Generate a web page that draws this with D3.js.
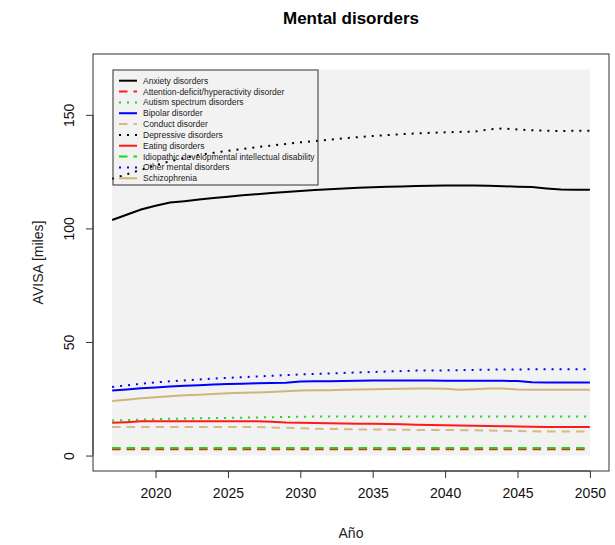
<!DOCTYPE html>
<html lang="es">
<head>
<meta charset="UTF-8">
<title>Mental disorders</title>
<script src="https://d3js.org/d3.v7.min.js"></script>
<style>
  body { margin: 0; background: #fff; }
  text { font-family: "Liberation Sans", Arial, sans-serif; }
</style>
</head>
<body>
<svg id="chart" width="615" height="545"></svg>
<script>
// years on the x axis
var years = [2017, 2018, 2019, 2020, 2021, 2022, 2023, 2024, 2025, 2026, 2027, 2028,
             2029, 2030, 2031, 2032, 2033, 2034, 2035, 2036, 2037, 2038, 2039, 2040,
             2041, 2042, 2043, 2044, 2045, 2046, 2047, 2048, 2049, 2050];

// AVISA (miles) per disorder
var anxiety = [103.7, 106.0, 108.3, 110.0, 111.4, 112.0, 112.7, 113.4, 114.0, 114.6, 115.1, 115.6,
               116.0, 116.5, 116.9, 117.3, 117.6, 117.9, 118.1, 118.3, 118.5, 118.7, 118.8, 118.9,
               118.9, 118.9, 118.8, 118.6, 118.4, 118.2, 117.6, 117.1, 117.0, 117.0];
var adhd = [2.8, 2.8, 2.8, 2.8, 2.8, 2.8, 2.8, 2.8, 2.8, 2.8, 2.8, 2.8,
            2.8, 2.8, 2.8, 2.8, 2.8, 2.8, 2.8, 2.8, 2.8, 2.8, 2.8, 2.8,
            2.8, 2.8, 2.8, 2.8, 2.8, 2.8, 2.8, 2.8, 2.8, 2.8];
var autism = [15.4, 15.6, 15.8, 16.0, 16.2, 16.3, 16.4, 16.5, 16.6, 16.7, 16.8, 16.9,
              17.0, 17.1, 17.2, 17.2, 17.2, 17.2, 17.2, 17.2, 17.2, 17.2, 17.2, 17.2,
              17.2, 17.2, 17.2, 17.2, 17.2, 17.2, 17.2, 17.2, 17.2, 17.2];
var bipolar = [28.6, 29.1, 29.6, 30.0, 30.4, 30.7, 31.0, 31.3, 31.5, 31.6, 31.8, 31.9,
               32.1, 32.6, 32.7, 32.7, 32.8, 32.9, 33.0, 33.0, 33.0, 33.0, 33.0, 32.9,
               32.9, 32.9, 32.9, 32.9, 32.8, 32.3, 32.2, 32.2, 32.2, 32.2];
var conduct = [12.6, 12.6, 12.6, 12.6, 12.6, 12.6, 12.6, 12.6, 12.6, 12.6, 12.6, 12.4,
               12.2, 12.0, 11.8, 11.7, 11.6, 11.5, 11.5, 11.4, 11.4, 11.3, 11.3, 11.2,
               11.2, 11.1, 11.0, 10.9, 10.8, 10.7, 10.6, 10.6, 10.6, 10.6];
var depressive = [121.8, 123.8, 125.8, 127.8, 129.6, 131.0, 132.3, 133.3, 134.2, 135.0, 135.8, 136.5,
                  137.2, 137.9, 138.5, 139.1, 139.7, 140.2, 140.7, 141.1, 141.5, 141.8, 142.1, 142.3,
                  142.5, 142.6, 143.6, 144.0, 143.6, 143.2, 143.0, 142.9, 143.0, 143.0];
var eating = [14.4, 14.7, 15.1, 15.1, 15.1, 15.1, 15.1, 15.1, 15.1, 15.1, 15.1, 14.9,
              14.5, 14.4, 14.3, 14.2, 14.1, 14.0, 14.0, 13.9, 13.8, 13.6, 13.4, 13.3,
              13.2, 13.1, 13.0, 12.9, 12.8, 12.7, 12.6, 12.6, 12.6, 12.6];
var idiopathic = [3.3, 3.3, 3.3, 3.3, 3.3, 3.3, 3.3, 3.3, 3.3, 3.3, 3.3, 3.3,
                  3.3, 3.3, 3.3, 3.3, 3.3, 3.3, 3.3, 3.3, 3.3, 3.3, 3.3, 3.3,
                  3.3, 3.3, 3.3, 3.3, 3.3, 3.3, 3.3, 3.3, 3.3, 3.3];
var otherMental = [30.2, 30.9, 31.6, 32.2, 32.7, 33.1, 33.5, 33.9, 34.2, 34.5, 34.8, 35.1,
                   35.4, 35.7, 35.9, 36.1, 36.4, 36.6, 36.8, 37.0, 37.2, 37.4, 37.4, 37.5,
                   37.6, 37.7, 37.8, 37.9, 37.9, 38.0, 38.0, 38.0, 38.0, 38.0];
var schizophrenia = [24.0, 24.6, 25.2, 25.7, 26.1, 26.5, 26.8, 27.1, 27.4, 27.6, 27.8, 28.0,
                     28.3, 28.6, 28.7, 28.8, 29.0, 29.1, 29.2, 29.3, 29.4, 29.5, 29.5, 29.4,
                     29.0, 29.2, 29.5, 29.5, 29.1, 29.0, 29.0, 29.0, 29.0, 29.0];

var xTicks = [2020, 2025, 2030, 2035, 2040, 2045, 2050];
var yTicks = [0, 50, 100, 150];

var DASH = "8.5,6", DOT = "2,6";
var series = [
  { name: "Anxiety disorders", values: anxiety, color: "#000000", dash: null },
  { name: "Attention-deficit/hyperactivity disorder", values: adhd, color: "#ff1a1a", dash: DASH },
  { name: "Autism spectrum disorders", values: autism, color: "#11dd11", dash: DOT },
  { name: "Bipolar disorder", values: bipolar, color: "#0000ff", dash: null },
  { name: "Conduct disorder", values: conduct, color: "#d2bc84", dash: DASH },
  { name: "Depressive disorders", values: depressive, color: "#000000", dash: DOT },
  { name: "Eating disorders", values: eating, color: "#ff1a1a", dash: null },
  { name: "Idiopathic developmental intellectual disability", values: idiopathic, color: "#11dd11", dash: DASH },
  { name: "Other mental disorders", values: otherMental, color: "#0000ff", dash: DOT },
  { name: "Schizophrenia", values: schizophrenia, color: "#cdb678", dash: null }
];

var svg = d3.select("#chart");

// plot region (R style: 4% padding around 2017-2050 / 0-170)
var pLeft = 93, pRight = 609, pTop = 54, pBottom = 471;
var x = d3.scaleLinear().domain([2017 - 0.04 * 33, 2050 + 0.04 * 33]).range([pLeft, pRight]);
var y = d3.scaleLinear().domain([0 - 0.04 * 170, 170 + 0.04 * 170]).range([pBottom, pTop]);

svg.append("rect").attr("width", 615).attr("height", 545).attr("fill", "#fff");

// light gray panel
svg.append("rect")
  .attr("x", x(2017)).attr("y", y(170))
  .attr("width", x(2050) - x(2017)).attr("height", y(0) - y(170))
  .attr("fill", "#f2f2f2");

// lines
var line = d3.line().x(function (d, i) { return x(years[i]); }).y(function (d) { return y(d); });
svg.append("g").selectAll("path")
  .data(series)
  .enter().append("path")
  .attr("d", function (s) { return line(s.values); })
  .attr("fill", "none")
  .attr("stroke", function (s) { return s.color; })
  .attr("stroke-width", 2)
  .attr("stroke-dasharray", function (s) { return s.dash; });

// box
svg.append("rect")
  .attr("x", pLeft).attr("y", pTop)
  .attr("width", pRight - pLeft).attr("height", pBottom - pTop)
  .attr("fill", "none").attr("stroke", "#333").attr("stroke-width", 1);

// axes
var xAxis = d3.axisBottom(x).tickValues(xTicks).tickSize(7).tickPadding(10).tickFormat(d3.format("d"));
var gx = svg.append("g").attr("transform", "translate(0," + pBottom + ")").call(xAxis);
gx.select(".domain").attr("d", "M" + x(xTicks[0]) + ",0H" + x(xTicks[xTicks.length - 1])).attr("stroke", "#333");
gx.selectAll(".tick line").attr("stroke", "#333");
gx.selectAll("text").attr("font-size", 14).attr("fill", "#111")
  .style("font-family", "'Liberation Sans', Arial, sans-serif");

var yAxis = d3.axisLeft(y).tickValues(yTicks).tickSize(7);
var gy = svg.append("g").attr("transform", "translate(" + pLeft + ",0)").call(yAxis);
gy.select(".domain").attr("d", "M0," + y(yTicks[0]) + "V" + y(yTicks[yTicks.length - 1])).attr("stroke", "#333");
gy.selectAll(".tick line").attr("stroke", "#333");
gy.selectAll("text")
  .attr("x", null).attr("dy", null)
  .attr("text-anchor", "middle")
  .attr("transform", "translate(-19,0) rotate(-90)")
  .attr("font-size", 14).attr("fill", "#111")
  .style("font-family", "'Liberation Sans', Arial, sans-serif");

// titles
svg.append("text")
  .attr("x", (pLeft + pRight) / 2).attr("y", 24)
  .attr("text-anchor", "middle")
  .attr("font-size", 17).attr("font-weight", "bold")
  .text("Mental disorders");

svg.append("text")
  .attr("x", (pLeft + pRight) / 2).attr("y", 538)
  .attr("text-anchor", "middle")
  .attr("font-size", 14).attr("fill", "#222")
  .text("Año");

svg.append("text")
  .attr("transform", "translate(43," + ((pTop + pBottom) / 2) + ") rotate(-90)")
  .attr("text-anchor", "middle")
  .attr("font-size", 14).attr("fill", "#222")
  .text("AVISA [miles]");

// legend (transparent background)
var lg = svg.append("g").attr("transform", "translate(113,70)");
lg.append("rect")
  .attr("width", 205).attr("height", 115)
  .attr("fill", "none").attr("stroke", "#333").attr("stroke-width", 1);
var item = lg.selectAll(".item")
  .data(series)
  .enter().append("g")
  .attr("transform", function (s, i) { return "translate(0," + (10.7 + i * 10.84) + ")"; });
item.append("line")
  .attr("x1", 6).attr("x2", 24)
  .attr("stroke", function (s) { return s.color; })
  .attr("stroke-width", 2)
  .attr("stroke-dasharray", function (s) { return s.dash; });
item.append("text")
  .attr("x", 30).attr("dy", "0.35em")
  .attr("font-size", 8.5).attr("fill", "#222")
  .text(function (s) { return s.name; });
</script>
</body>
</html>
